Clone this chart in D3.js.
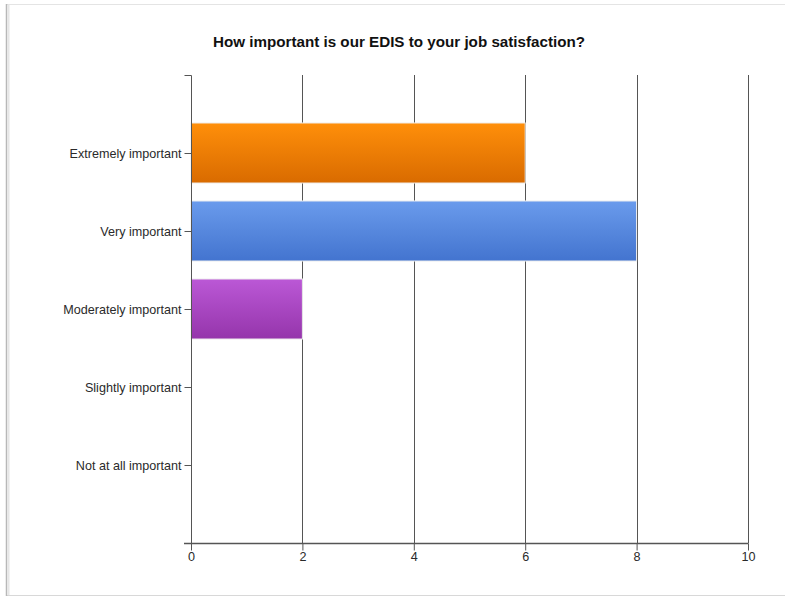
<!DOCTYPE html>
<html>
<head>
<meta charset="utf-8">
<script src="https://cdn.jsdelivr.net/npm/d3@7"></script>
<style>
  html, body { margin: 0; padding: 0; background: #fff; }
  svg { display: block; font-family: "Liberation Sans", Arial, sans-serif; }
</style>
</head>
<body>
<svg id="chart" width="785" height="598"></svg>
<script>
// Survey responses
const categories = ["Extremely important", "Very important", "Moderately important", "Slightly important", "Not at all important"];
const counts = [6, 8, 2, 0, 0];
const xTicks = [0, 2, 4, 6, 8, 10];
const barTop = ["#ff8f0a", "#6a9bec", "#bb58d6"];
const barBottom = ["#d96b00", "#4374cf", "#9535ab"];

const svg = d3.select("#chart");
const W = 785, H = 598;
const margin = { left: 191, right: 37, top: 75, bottom: 55 };

// outer frame
svg.append("line").attr("x1", 6).attr("x2", W).attr("y1", 4.5).attr("y2", 4.5).attr("stroke", "#e4e4e4");
svg.append("line").attr("x1", 6).attr("x2", W).attr("y1", 595.5).attr("y2", 595.5).attr("stroke", "#d8d8d8");
svg.append("line").attr("x1", 6.5).attr("x2", 6.5).attr("y1", 4).attr("y2", 596).attr("stroke", "#b8b8b8").attr("stroke-width", 1.5);
svg.append("line").attr("x1", 8.5).attr("x2", 8.5).attr("y1", 5).attr("y2", 595).attr("stroke", "#e6e6e6").attr("stroke-width", 2);

svg.append("text")
  .attr("x", 399).attr("y", 47)
  .attr("text-anchor", "middle")
  .attr("font-size", 15.2).attr("font-weight", "bold").attr("fill", "#111")
  .text("How important is our EDIS to your job satisfaction?");

const x = d3.scaleLinear().domain([0, 10]).range([margin.left, W - margin.right]);
const y = d3.scalePoint().domain(categories).range([margin.top, H - margin.bottom]).padding(1);
const barH = y.step() * 0.77;

// gradients
const defs = svg.append("defs");
barTop.forEach((c, i) => {
  const g = defs.append("linearGradient").attr("id", "g" + i)
    .attr("x1", 0).attr("x2", 0).attr("y1", 0).attr("y2", 1);
  g.append("stop").attr("offset", "0%").attr("stop-color", c);
  g.append("stop").attr("offset", "100%").attr("stop-color", barBottom[i]);
});

// vertical gridlines
svg.append("g").selectAll("line").data(xTicks.slice(1)).join("line")
  .attr("x1", d => Math.round(x(d)) + 0.5).attr("x2", d => Math.round(x(d)) + 0.5)
  .attr("y1", margin.top).attr("y2", H - margin.bottom)
  .attr("stroke", "#555").attr("stroke-width", 1);

// bars
const data = categories.map((c, i) => ({ c, v: counts[i], i }));
svg.append("g").selectAll("rect").data(data.filter(d => d.v > 0)).join("rect")
  .attr("x", x(0))
  .attr("y", d => y(d.c) - barH / 2)
  .attr("width", d => x(d.v) - x(0))
  .attr("height", barH)
  .attr("fill", d => `url(#g${d.i})`)
  .attr("stroke", "#f0f0f0").attr("stroke-width", 1);

// y axis
const yAxis = svg.append("g").attr("transform", `translate(${margin.left + 0.5},0)`)
  .call(d3.axisLeft(y).tickSize(7).tickPadding(3));
yAxis.select(".domain").attr("d", `M-7,${margin.top + 0.5}H0V${H - margin.bottom}`).attr("stroke", "#555");
yAxis.selectAll(".tick line").attr("stroke", "#555");
yAxis.selectAll(".tick text").attr("font-size", 12.6).attr("fill", "#2a2a2a").attr("font-family", "Liberation Sans, Arial, sans-serif");

// x axis
const xAxis = svg.append("g").attr("transform", `translate(0,${H - margin.bottom + 0.5})`)
  .call(d3.axisBottom(x).tickValues(xTicks).tickSize(7).tickPadding(2));
xAxis.select(".domain").attr("d", `M${margin.left - 7},0H${W - margin.right + 0.5}`).attr("stroke", "#555").attr("stroke-width", 1.5);
xAxis.selectAll(".tick line").attr("stroke", "#555");
xAxis.selectAll(".tick text").attr("font-size", 12.6).attr("fill", "#2a2a2a").attr("font-family", "Liberation Sans, Arial, sans-serif");
</script>
</body>
</html>
